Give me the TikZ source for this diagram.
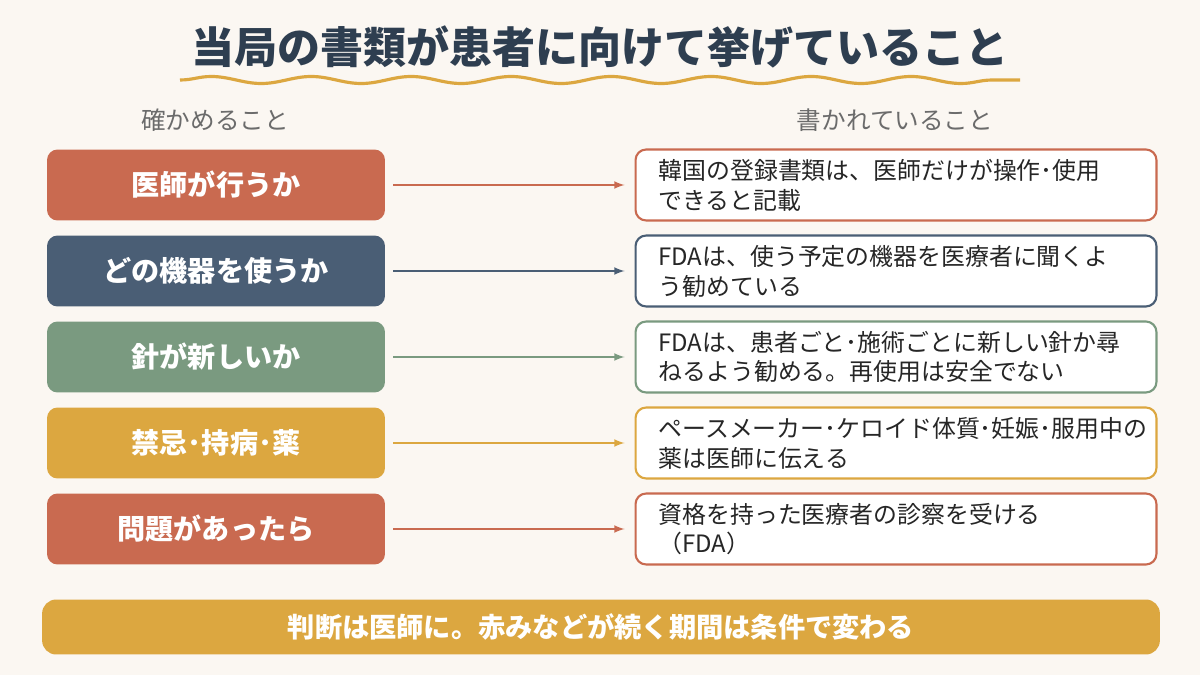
\documentclass[tikz,border=0pt]{standalone}
\usepackage{fontspec}
\setmainfont{Noto Sans CJK JP}
\usetikzlibrary{decorations.pathmorphing}
\definecolor{bgcol}{HTML}{FBF7F2}
\definecolor{navy}{HTML}{2E3E50}
\definecolor{redc}{HTML}{C96A50}
\definecolor{bluec}{HTML}{4A5E75}
\definecolor{greenc}{HTML}{7A9A80}
\definecolor{goldc}{HTML}{DCA740}
\definecolor{grayc}{HTML}{6B6B6B}
\tikzset{
  lbox/.style={rounded corners=6pt, fill=#1, text=white, font=\fontsize{16}{19}\selectfont\bfseries,
    minimum width=6.76cm, minimum height=1.42cm},
  rbox/.style={rounded corners=6pt, draw=#1, line width=1.2pt, fill=white, text=black!85,
    minimum width=10.42cm, minimum height=1.42cm, text width=9.5cm, align=left,
    font=\fontsize{13.6}{17}\selectfont},
  link/.style={draw=#1, line width=1pt, -latex},
  head/.style={text=grayc, font=\fontsize{14}{16}\selectfont}
}
\begin{document}
\begin{tikzpicture}[x=0.02cm, y=-0.02cm]
  \fill[bgcol] (0,0) rectangle (1200,675);
  % title
  \node (title) at (600,47) {\fontsize{24.5}{28}\selectfont\bfseries\color{navy}当局の書類が患者に向けて挙げていること};
  \draw[goldc, line width=1.8pt, decorate, decoration={snake, segment length=2cm, amplitude=0.07cm}]
    (180,80) -- (1020,80);
  % column heads
  \node[head] (hl) at (215,120) {確かめること};
  \node[head] (hr) at (895,120) {書かれていること};
  % rows
  \foreach \i/\y/\c/\a/\b in {
      1/185/redc/医師が行うか/{韓国の登録書類は、医師だけが操作･使用\\できると記載},
      2/271/bluec/どの機器を使うか/{FDAは、使う予定の機器を医療者に聞くよ\\う勧めている},
      3/357/greenc/針が新しいか/{FDAは、患者ごと･施術ごとに新しい針か尋\\ねるよう勧める。再使用は安全でない},
      4/443/goldc/禁忌･持病･薬/{ペースメーカー･ケロイド体質･妊娠･服用中の\\薬は医師に伝える},
      5/529/redc/問題があったら/{資格を持った医療者の診察を受ける\\（FDA）}} {
    \node[lbox=\c] (check\i) at (216,\y) {\a};
    \node[rbox=\c] (note\i) at (896,\y) {\b};
    \draw[link=\c] ([xshift=0.16cm]check\i.east) -- ([xshift=-0.2cm]note\i.west);
  }
  % bottom bar
  \node[rounded corners=8pt, fill=goldc, text=white, minimum width=22.36cm, minimum height=1.1cm,
    font=\fontsize{15.5}{18}\selectfont\bfseries] (verdict) at (601,627) {判断は医師に。赤みなどが続く期間は条件で変わる};
\end{tikzpicture}
\end{document}
